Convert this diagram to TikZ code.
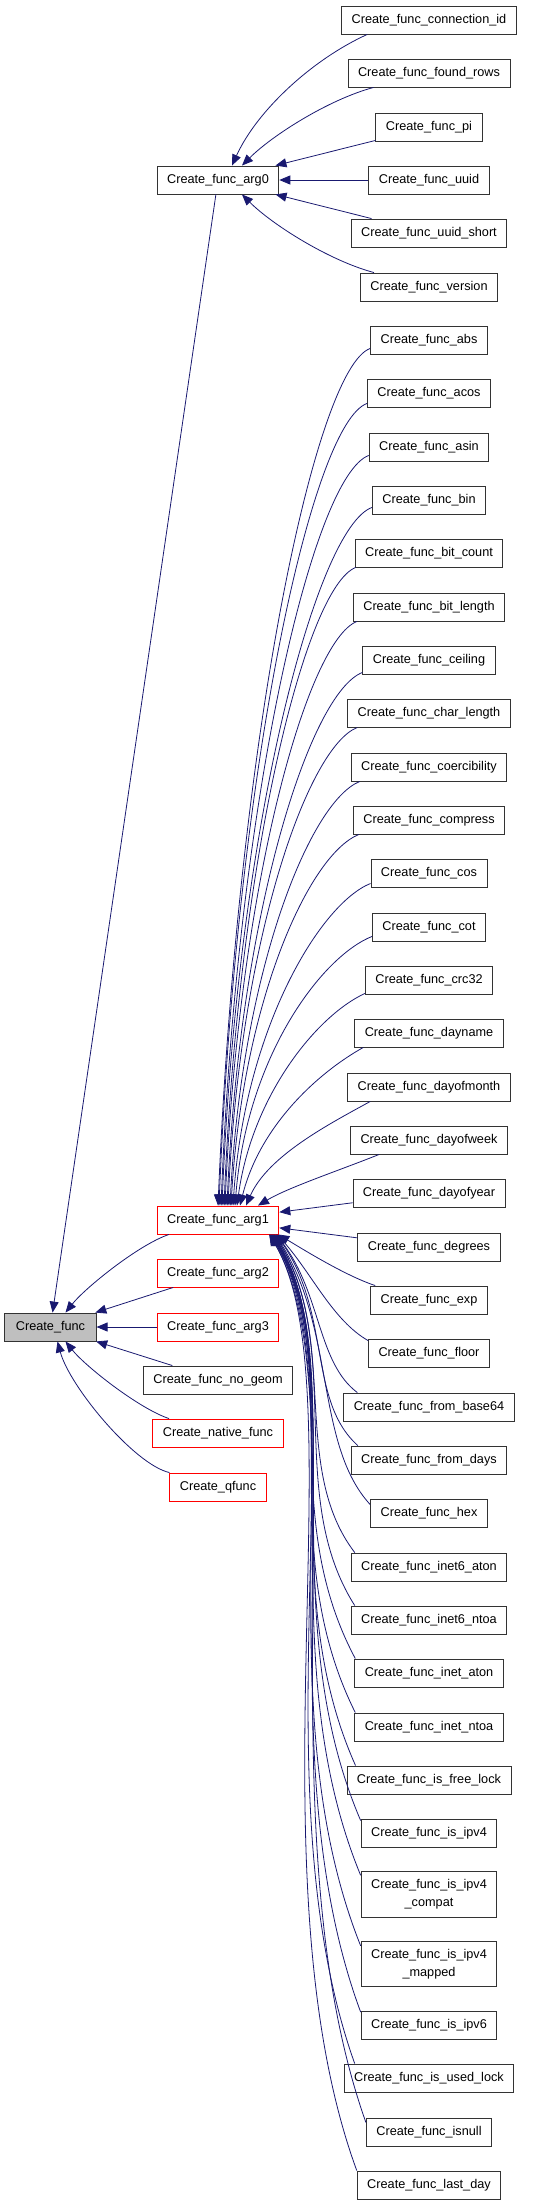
\documentclass[tikz,border=0pt]{standalone}
\usepackage{fontspec}
\setmainfont{Liberation Sans}
\usetikzlibrary{arrows.meta}
\definecolor{midblue}{RGB}{25,25,112}
\definecolor{selgray}{RGB}{191,191,191}

\begin{document}
\begin{tikzpicture}[x=1pt,y=1pt,
  fn/.style={draw=black!80, line width=0.9pt, inner xsep=10pt, inner ysep=0pt, minimum height=28pt, align=center, font=\fontsize{12.7}{18}\selectfont},
  fnred/.style={fn, draw=red},
  fntwo/.style={fn, minimum height=45.5pt},
  fnsel/.style={fn, fill=selgray, inner xsep=11pt},
  link/.style={draw=midblue, line width=0.8pt, >={Triangle[length=11pt,width=9pt]}, <-}]
\useasboundingbox (0,0) rectangle (536,-2205);

\node[fnsel] (func) at (50.5,-1327){Create\_func};
\node[fn] (arg0) at (218,-180){Create\_func\_arg0};
\node[fnred] (arg1) at (218,-1220){Create\_func\_arg1};
\node[fnred] (arg2) at (218,-1273){Create\_func\_arg2};
\node[fnred] (arg3) at (218,-1327){Create\_func\_arg3};
\node[fn] (nogeom) at (218,-1380){Create\_func\_no\_geom};
\node[fnred] (native) at (218,-1433){Create\_native\_func};
\node[fnred] (qfunc) at (218,-1487){Create\_qfunc};
\draw[link](func) -- (arg0);
\draw[link]([xshift=15pt]func.north) .. controls +(20,25) and +(-30,-10) .. ([xshift=-49pt]arg1.south);
\draw[link](func) -- (arg2);
\draw[link](func) -- (arg3);
\draw[link](func) -- (nogeom);
\draw[link]([xshift=15pt]func.south) .. controls +(20,-25) and +(-30,10) .. ([xshift=-49pt]native.north);
\draw[link]([xshift=7pt]func.south) .. controls +(12,-45) and +(-35,8) .. (qfunc.north west);

% callers of arg0
\node[fn] (connid) at (429,-20){Create\_func\_connection\_id};
\node[fn] (foundrows) at (429,-73){Create\_func\_found\_rows};
\node[fn] (pi) at (429,-127){Create\_func\_pi};
\node[fn] (uuid) at (429,-180){Create\_func\_uuid};
\node[fn] (uuidshort) at (429,-233){Create\_func\_uuid\_short};
\node[fn] (version) at (429,-287){Create\_func\_version};
\draw[link]([xshift=14pt]arg0.north) .. controls +(25,55) and +(-55,-25) .. ([xshift=26pt]connid.south west);
\draw[link]([xshift=24pt]arg0.north) .. controls +(30,30) and +(-45,-12) .. ([xshift=26pt]foundrows.south west);
\draw[link](arg0) -- (pi);
\draw[link](arg0) -- (uuid);
\draw[link](arg0) -- (uuidshort);
\draw[link]([xshift=24pt]arg0.south) .. controls +(30,-30) and +(-45,12) .. ([xshift=14pt]version.north west);

% callers of arg1
\node[fn] (abs) at (429,-340){Create\_func\_abs};
\node[fn] (acos) at (429,-393){Create\_func\_acos};
\node[fn] (asin) at (429,-447){Create\_func\_asin};
\node[fn] (bin) at (429,-500){Create\_func\_bin};
\node[fn] (bitcount) at (429,-553){Create\_func\_bit\_count};
\node[fn] (bitlength) at (429,-607){Create\_func\_bit\_length};
\node[fn] (ceiling) at (429,-660){Create\_func\_ceiling};
\node[fn] (charlength) at (429,-713){Create\_func\_char\_length};
\node[fn] (coercibility) at (429,-767){Create\_func\_coercibility};
\node[fn] (compress) at (429,-820){Create\_func\_compress};
\node[fn] (cos) at (429,-873){Create\_func\_cos};
\node[fn] (cot) at (429,-927){Create\_func\_cot};
\node[fn] (crc32) at (429,-980){Create\_func\_crc32};
\node[fn] (dayname) at (429,-1033){Create\_func\_dayname};
\node[fn] (dayofmonth) at (429,-1087){Create\_func\_dayofmonth};
\node[fn] (dayofweek) at (429,-1140){Create\_func\_dayofweek};
\node[fn] (dayofyear) at (429,-1193){Create\_func\_dayofyear};
\node[fn] (degrees) at (429,-1247){Create\_func\_degrees};
\node[fn] (exp) at (429,-1300){Create\_func\_exp};
\node[fn] (floor) at (429,-1353){Create\_func\_floor};
\node[fn] (frombase64) at (429,-1407){Create\_func\_from\_base64};
\node[fn] (fromdays) at (429,-1460){Create\_func\_from\_days};
\node[fn] (hex) at (429,-1513){Create\_func\_hex};
\node[fn] (inet6aton) at (429,-1567){Create\_func\_inet6\_aton};
\node[fn] (inet6ntoa) at (429,-1620){Create\_func\_inet6\_ntoa};
\node[fn] (inetaton) at (429,-1673){Create\_func\_inet\_aton};
\node[fn] (inetntoa) at (429,-1727){Create\_func\_inet\_ntoa};
\node[fn] (isfreelock) at (429,-1780){Create\_func\_is\_free\_lock};
\node[fn] (ipv4) at (429,-1833){Create\_func\_is\_ipv4};
\node[fntwo] (ipv4compat) at (429,-1894.5){Create\_func\_is\_ipv4\\\_compat};
\node[fntwo] (ipv4mapped) at (429,-1964){Create\_func\_is\_ipv4\\\_mapped};
\node[fn] (ipv6) at (429,-2025.5){Create\_func\_is\_ipv6};
\node[fn] (isusedlock) at (429,-2078){Create\_func\_is\_used\_lock};
\node[fn] (isnull) at (429,-2132){Create\_func\_isnull};
\node[fn] (lastday) at (429,-2185){Create\_func\_last\_day};

\draw[link]([xshift=0pt]arg1.north) .. controls +(20,470) and +(-55,-20) .. ([yshift=6pt]abs.south west);
\draw[link]([xshift=1pt]arg1.north) .. controls +(18,440) and +(-55,-20) .. ([yshift=4pt]acos.south west);
\draw[link]([xshift=3pt]arg1.north) .. controls +(17,413) and +(-55,-20) .. ([yshift=6pt]asin.south west);
\draw[link]([xshift=4pt]arg1.north) .. controls +(16,385) and +(-55,-20) .. ([yshift=7pt]bin.south west);
\draw[link]([xshift=6pt]arg1.north) .. controls +(15,350) and +(-50,-20) .. ([xshift=1pt]bitcount.south west);
\draw[link]([xshift=7pt]arg1.north) .. controls +(14,320) and +(-50,-20) .. ([xshift=4pt]bitlength.south west);
\draw[link]([xshift=9pt]arg1.north) .. controls +(13,295) and +(-52,-20) .. ([yshift=2pt]ceiling.south west);
\draw[link]([xshift=10pt]arg1.north) .. controls +(12,265) and +(-50,-20) .. ([xshift=10pt]charlength.south west);
\draw[link]([xshift=12pt]arg1.north) .. controls +(12,235) and +(-50,-20) .. ([xshift=9pt]coercibility.south west);
\draw[link]([xshift=13pt]arg1.north) .. controls +(12,205) and +(-50,-20) .. ([xshift=6pt]compress.south west);
\draw[link]([xshift=15pt]arg1.north) .. controls +(12,178) and +(-50,-20) .. ([yshift=4pt]cos.south west);
\draw[link]([xshift=17pt]arg1.north) .. controls +(12,150) and +(-50,-20) .. ([yshift=5pt]cot.south west);
\draw[link]([xshift=19pt]arg1.north) .. controls +(15,110) and +(-48,-22) .. ([yshift=1pt]crc32.south west);
\draw[link]([xshift=22pt]arg1.north) .. controls +(20,80) and +(-45,-25) .. ([xshift=9pt]dayname.south west);
\draw[link]([xshift=28pt]arg1.north) .. controls +(22,50) and +(-40,-22) .. ([xshift=23pt]dayofmonth.south west);
\draw[link]([xshift=40pt]arg1.north) .. controls +(30,18) and +(-40,-16) .. ([xshift=29pt]dayofweek.south west);
\draw[link](arg1) -- (dayofyear);
\draw[link](arg1) -- (degrees);
\draw[link]([xshift=-1pt]arg1.south east) .. controls +(25,-15) and +(-30,10) .. ([xshift=5pt]exp.north west);
\draw[link]([xshift=-2pt]arg1.south east) .. controls +(35,-40) and +(-35,20) .. ([yshift=-2pt]floor.north west);
\draw[link]([xshift=-3pt]arg1.south east) .. controls +(45,-60) and +(-40,30) .. ([xshift=14pt]frombase64.north west);
\draw[link]([xshift=-3pt]arg1.south east) .. controls +(55,-80) and +(-50,45) .. ([xshift=7pt]fromdays.north west);
\draw[link]([xshift=-4pt]arg1.south east) .. controls +(60,-95) and +(-55,60) .. ([yshift=-6pt]hex.north west);
\draw[link]([xshift=-5pt]arg1.south east) .. controls +(65,-105) and +(-65,85) .. ([xshift=4pt]inet6aton.north west);
\draw[link]([xshift=-5pt]arg1.south east) .. controls +(70,-115) and +(-70,110) .. ([xshift=4pt]inet6ntoa.north west);
\draw[link]([xshift=-6pt]arg1.south east) .. controls +(70,-120) and +(-80,150) .. ([xshift=1pt]inetaton.north west);
\draw[link]([xshift=-6pt]arg1.south east) .. controls +(75,-125) and +(-85,170) .. ([xshift=1pt]inetntoa.north west);
\draw[link]([xshift=-7pt]arg1.south east) .. controls +(80,-130) and +(-85,190) .. ([xshift=9pt]isfreelock.north west);
\draw[link]([xshift=-7pt]arg1.south east) .. controls +(80,-135) and +(-90,210) .. ([yshift=-2pt]ipv4.north west);
\draw[link]([xshift=-8pt]arg1.south east) .. controls +(85,-140) and +(-95,230) .. ([yshift=-4pt]ipv4compat.north west);
\draw[link]([xshift=-8pt]arg1.south east) .. controls +(85,-140) and +(-100,250) .. ([yshift=-5pt]ipv4mapped.north west);
\draw[link]([xshift=-9pt]arg1.south east) .. controls +(90,-145) and +(-100,270) .. ([yshift=-1pt]ipv6.north west);
\draw[link]([xshift=-9pt]arg1.south east) .. controls +(90,-150) and +(-100,280) .. ([xshift=11pt]isusedlock.north west);
\draw[link]([xshift=-10pt]arg1.south east) .. controls +(90,-150) and +(-105,295) .. ([yshift=-5pt]isnull.north west);
\draw[link]([xshift=-10pt]arg1.south east) .. controls +(90,-150) and +(-110,300) .. (lastday.north west);
\end{tikzpicture}
\end{document}
